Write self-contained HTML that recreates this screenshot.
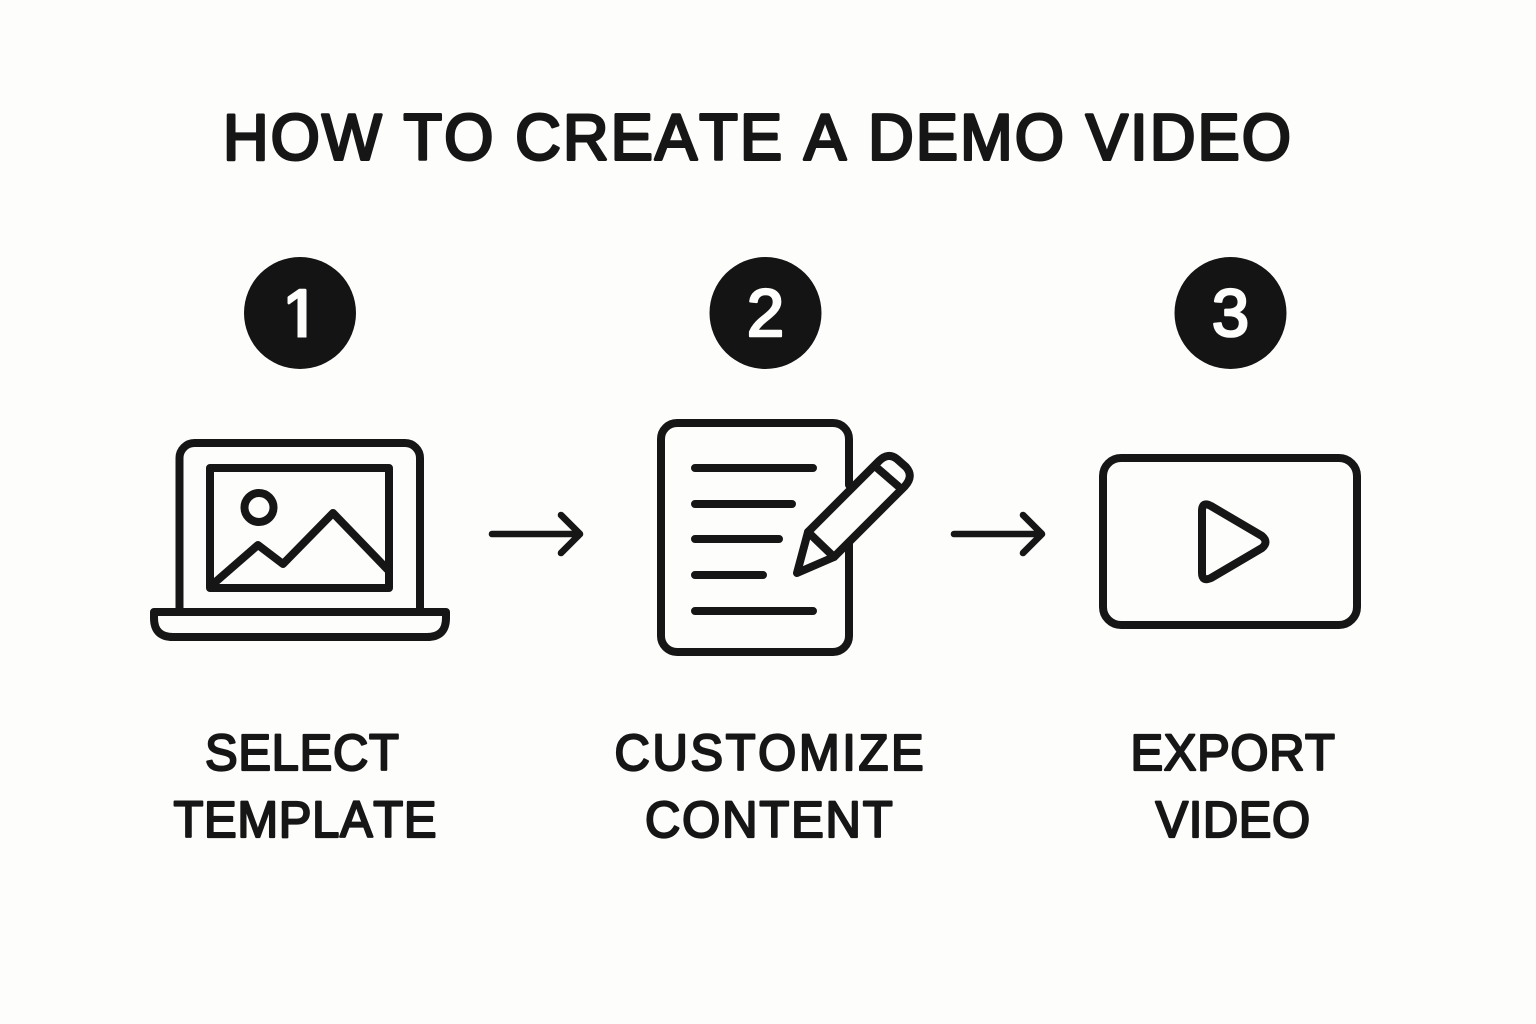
<!DOCTYPE html>
<html lang="en">
<head>
<meta charset="utf-8">
<title>How to create a demo video</title>
<style>
html,body{margin:0;padding:0;background:#fdfdfb}
svg{display:block}
text{font-family:"Liberation Sans",Arial,sans-serif;font-weight:400;fill:#161616;stroke:#161616;stroke-linejoin:round;paint-order:stroke;font-kerning:none}
.t{stroke-width:3px}
.l{stroke-width:2.200px}
.d{fill:#fdfdfb;stroke:#fdfdfb;stroke-width:2.600px}
.i{fill:none;stroke:#161616;stroke-width:8;stroke-linecap:round;stroke-linejoin:round}
</style>
</head>
<body>
<svg width="1536" height="1024" viewBox="0 0 1536 1024" xmlns="http://www.w3.org/2000/svg">
<rect width="1536" height="1024" fill="#fdfdfb"/>

<text class="t" transform="translate(223 159.500) scale(.97 1)" font-size="65" textLength="1101" lengthAdjust="spacing">HOW TO CREATE A DEMO VIDEO</text>

<circle cx="300" cy="313" r="56" fill="#141414"/>
<circle cx="765.500" cy="313" r="56" fill="#141414"/>
<circle cx="1230.500" cy="313" r="56" fill="#141414"/>
<text class="d" x="301" y="336" font-size="67" text-anchor="middle">1</text>
<rect x="278" y="325" width="46" height="17" fill="#141414"/>
<rect x="297.500" y="290" width="9" height="47.500" fill="#fdfdfb"/>
<text class="d" x="765.500" y="336" font-size="67" text-anchor="middle">2</text>
<text class="d" x="1230.500" y="336" font-size="67" text-anchor="middle">3</text>

<!-- laptop -->
<path class="i" d="M179.500 612V458a15 15 0 0 1 15-15H405a15 15 0 0 1 15 15V612"/>
<rect class="i" x="210" y="468" width="179" height="120"/>
<circle class="i" cx="259" cy="507.500" r="14.500"/>
<path class="i" d="M212 585L258 545L283 564L333 513L388 570"/>
<path class="i" d="M154 612H446V618Q446 637 427 637H173Q154 637 154 618Z"/>

<!-- arrow 1 -->
<path class="i" style="stroke-width:6.600" d="M492 534H580M561 515L580 534L561 553"/>

<!-- document -->
<path class="i" d="M849 485V439a16 16 0 0 0-16-16H677a16 16 0 0 0-16 16V636a16 16 0 0 0 16 16H833a16 16 0 0 0 16-16V543"/>
<path class="i" d="M695 468H813M695 504H792M695 539H779M695 575H763M695 611H813"/>
<!-- pencil -->
<path class="i" d="M797 573L808 532L879 461Q888 452 897 459L906 467Q914 476 905 486L834 557Z"/>
<path class="i" d="M808 532L834 557M876 467L898 486"/>

<!-- arrow 2 -->
<path class="i" style="stroke-width:6.600" d="M954 534H1042M1023 515L1042 534L1023 553"/>

<!-- video -->
<rect class="i" x="1103" y="458" width="254" height="167" rx="18"/>
<path class="i" d="M1202 511Q1202 501 1211 506L1262 536Q1269 542 1262 548L1211 578Q1202 582 1202 573Z"/>

<!-- labels -->
<text class="l" transform="translate(205 770) scale(.96 1)" font-size="51" textLength="202" lengthAdjust="spacing">SELECT</text>
<text class="l" transform="translate(173.500 837) scale(.96 1)" font-size="51" textLength="274" lengthAdjust="spacing">TEMPLATE</text>
<text class="l" transform="translate(614.500 770) scale(.96 1)" font-size="51" textLength="322" lengthAdjust="spacing">CUSTOMIZE</text>
<text class="l" transform="translate(645 837) scale(.96 1)" font-size="51" textLength="258" lengthAdjust="spacing">CONTENT</text>
<text class="l" transform="translate(1130.500 770) scale(.96 1)" font-size="51" textLength="213" lengthAdjust="spacing">EXPORT</text>
<text class="l" transform="translate(1155.500 837) scale(.96 1)" font-size="51" textLength="161" lengthAdjust="spacing">VIDEO</text>
</svg>
</body>
</html>
